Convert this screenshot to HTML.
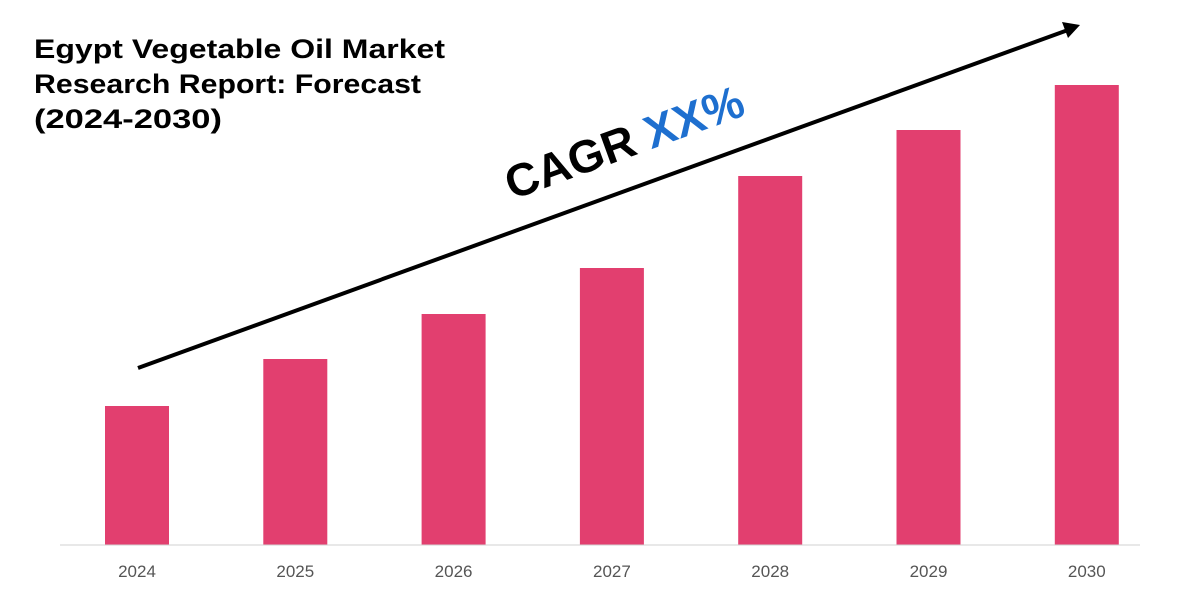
<!DOCTYPE html>
<html><head><meta charset="utf-8"><style>
body{margin:0;width:1200px;height:600px;background:#fff;overflow:hidden;font-family:"Liberation Sans",sans-serif}
</style></head><body>
<svg width="1200" height="600" viewBox="0 0 1200 600">
<g font-weight="bold" font-size="27" fill="#000">
<text x="34" y="58" textLength="411" lengthAdjust="spacingAndGlyphs">Egypt Vegetable Oil Market</text>
<text x="34" y="93" textLength="387" lengthAdjust="spacingAndGlyphs">Research Report: Forecast</text>
<text x="34" y="128" textLength="188" lengthAdjust="spacingAndGlyphs">(2024-2030)</text>
</g>
<g id="bars"></g>
<line x1="60" y1="545" x2="1140" y2="545" stroke="#d0d0d0" stroke-width="1"/>
<g id="labels"></g>
<g>
<line x1="138" y1="368" x2="1068" y2="30" stroke="#000" stroke-width="4"/>
<polygon points="1080,25 1062,22 1068,38" fill="#000"/>
</g>
<text transform="translate(512,200) rotate(-20)" font-size="46" font-weight="bold" fill="#000">CAGR <tspan fill="#1e6fcf">XX%</tspan></text>
</svg>
<script>
const categories=["2024","2025","2026","2027","2028","2029","2030"];
const values=[13.9,18.6,23.1,27.7,36.9,41.5,46.0];
const base=545, pxPerUnit=10, x0=105, step=158.3, bw=64;
const yScale=v=>base-v*pxPerUnit;
const xScale=i=>x0+i*step;
const ns="http://www.w3.org/2000/svg";
const bars=document.getElementById('bars'), labels=document.getElementById('labels');
categories.forEach((c,i)=>{
 const r=document.createElementNS(ns,'rect');
 
 
 r.setAttribute('x',xScale(i));r.setAttribute('width',bw);
 r.setAttribute('y',yScale(values[i]));r.setAttribute('height',base-yScale(values[i]));
 r.setAttribute('fill','#e23f6f');bars.appendChild(r);
 const t=document.createElementNS(ns,'text');
 
 
 t.setAttribute('x',xScale(i)+bw/2);t.setAttribute('y',577);
 t.setAttribute('text-anchor','middle');t.setAttribute('font-size','17');t.setAttribute('fill','#555');
 t.textContent=c;labels.appendChild(t);
});
</script>
</body></html>
